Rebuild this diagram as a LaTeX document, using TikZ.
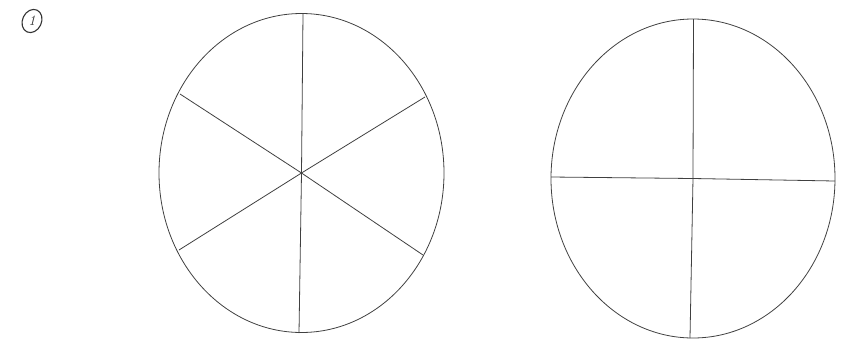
\documentclass[tikz,border=0pt]{standalone}
\usepackage{tikz}
\usetikzlibrary{shapes.geometric}

\begin{document}
\begin{tikzpicture}[
  x=1pt, y=-1pt,
  rim/.style={draw=black!75, line width=0.8pt},
  cut/.style={draw=black!75, line width=0.8pt},
  tag/.style={ellipse, draw=black!80, line width=1.1pt, inner sep=0pt,
              minimum width=19pt, minimum height=24pt, rotate=-25},
  tagtext/.style={font=\Large\itshape, text=black!80}
]
\useasboundingbox (0,0) rectangle (841,341);

% task number
\node[tag] (num) at (32,21) {};
\node[tagtext] (numtext) at (num.center) {1};

% six slices
\coordinate (c6) at (301.5,173);
\draw[rim] (c6) ellipse [x radius=142.5, y radius=159.5];
\coordinate (t6) at (303,14);   \coordinate (b6) at (299,333);
\coordinate (ul) at (180,94);   \coordinate (lr) at (423,255);
\coordinate (ur) at (425,97);   \coordinate (ll) at (179,250);
\draw[cut] (t6) -- (c6) -- (b6);
\draw[cut] (ul) -- (c6) -- (lr);
\draw[cut] (ur) -- (c6) -- (ll);

% four slices
\coordinate (c4) at (693,178.5);
\draw[rim] (c4) ellipse [x radius=142, y radius=159.5];
\coordinate (t4) at (693.5,19); \coordinate (b4) at (690,338);
\coordinate (w4) at (551,177);  \coordinate (e4) at (835,181);
\draw[cut] (t4) -- (c4) -- (b4);
\draw[cut] (w4) -- (c4) -- (e4);
\end{tikzpicture}
\end{document}
